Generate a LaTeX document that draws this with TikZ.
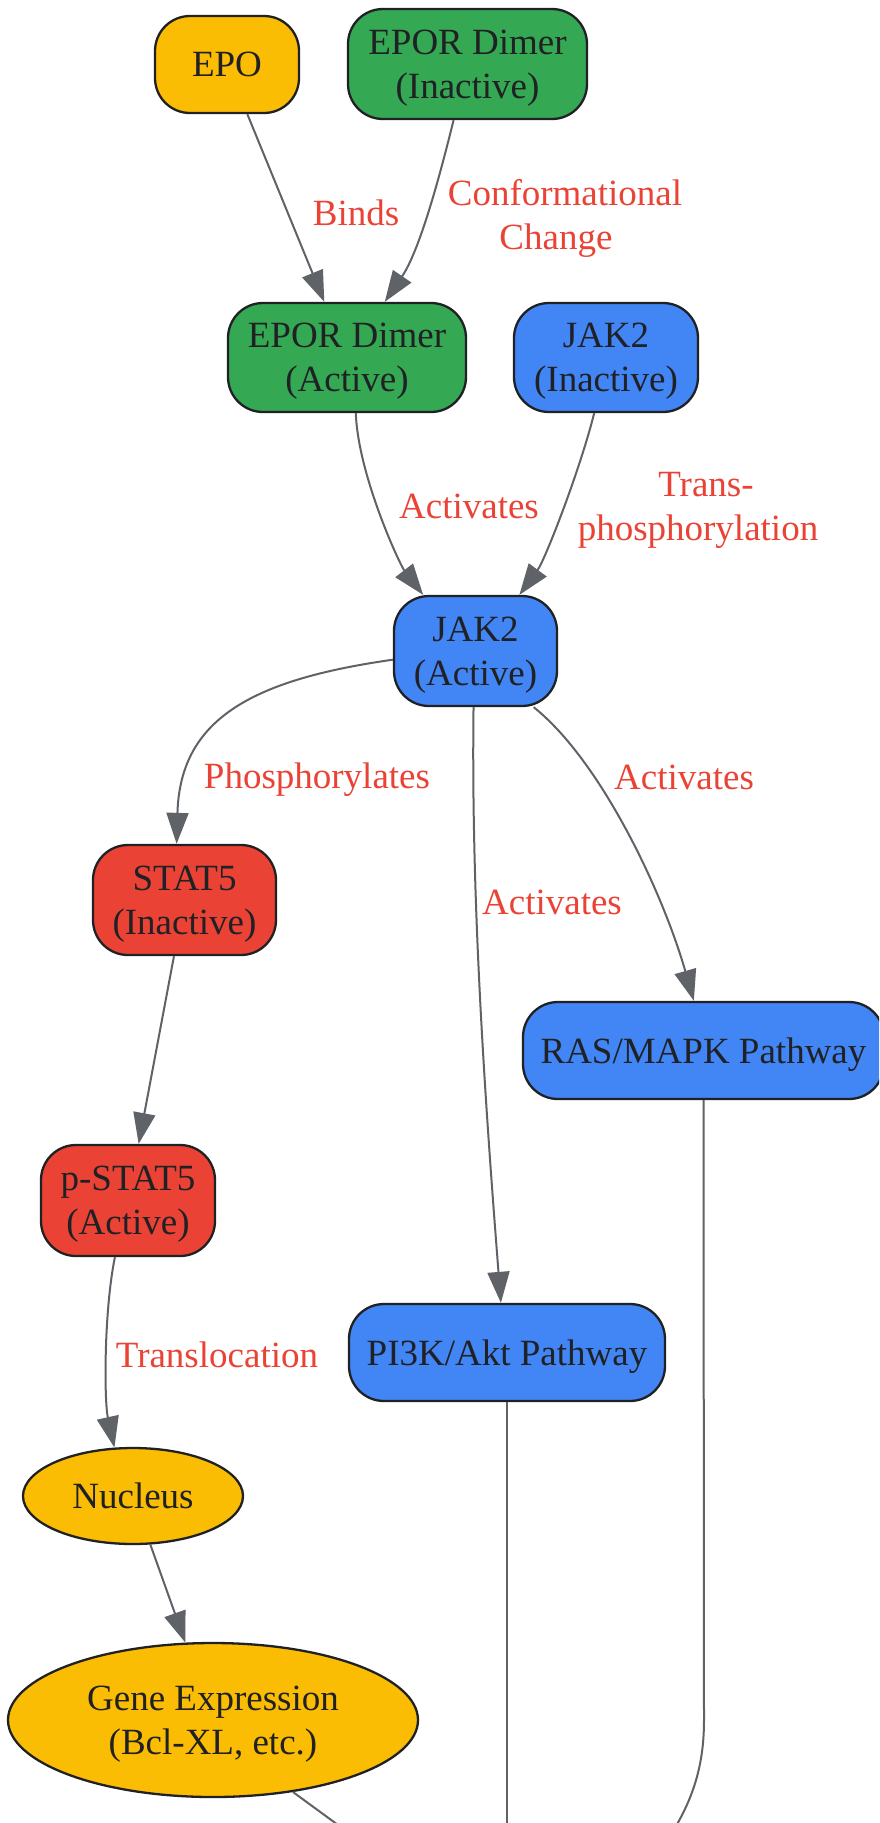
\documentclass[tikz,border=0pt]{standalone}
\usepackage{fontspec}
\setmainfont{Liberation Serif}
\usetikzlibrary{arrows.meta,shapes.geometric}
\definecolor{cyel}{HTML}{FBBC04}
\definecolor{cgrn}{HTML}{34A853}
\definecolor{cblu}{HTML}{4285F4}
\definecolor{cred}{HTML}{EA4335}
\definecolor{ctxt}{HTML}{202124}
\definecolor{cedge}{HTML}{5F6368}
\tikzset{
  box/.style={draw=ctxt, line width=2.3pt, rounded corners=35pt, text=ctxt,
    font=\fontsize{37}{44}\selectfont, align=center, inner sep=0pt, text depth=-5pt},
  oval/.style={ellipse, draw=ctxt, line width=2.3pt, text=ctxt,
    font=\fontsize{37}{44}\selectfont, align=center, inner sep=0pt, text depth=-5pt},
  edge/.style={draw=cedge, line width=2pt, -{Triangle[length=31pt,width=22pt]}},
  plainedge/.style={draw=cedge, line width=2pt},
  lab/.style={text=cred, font=\fontsize{37}{44}\selectfont, align=center, inner sep=0pt}
}
\begin{document}
\begin{tikzpicture}[x=1pt,y=-1pt]
\useasboundingbox (0,0) rectangle (879,1823);
\clip (0,0) rectangle (879,1823);
\fill[white] (0,0) rectangle (879,1823);

% nodes
\node[box, fill=cyel, minimum width=144pt, minimum height=97pt] (epo) at (227,64.5) {EPO};
\node[box, fill=cgrn, minimum width=239pt, minimum height=110pt] (eporI) at (467.5,64) {EPOR Dimer\\(Inactive)};
\node[box, fill=cgrn, minimum width=238pt, minimum height=109pt] (eporA) at (347,357.5) {EPOR Dimer\\(Active)};
\node[box, fill=cblu, minimum width=184pt, minimum height=109pt] (jak2i) at (606,357.5) {JAK2\\(Inactive)};
\node[box, fill=cblu, minimum width=163pt, minimum height=110pt] (jak2a) at (475.5,651) {JAK2\\(Active)};
\node[box, fill=cred, minimum width=183pt, minimum height=110pt] (stat5) at (184.5,900) {STAT5\\(Inactive)};
\node[box, fill=cblu, minimum width=361pt, minimum height=97pt] (ras) at (703.5,1050.5) {RAS/MAPK Pathway};
\node[box, fill=cred, minimum width=174pt, minimum height=111pt] (pstat5) at (128,1200.5) {p-STAT5\\(Active)};
\node[box, fill=cblu, minimum width=316pt, minimum height=97pt] (pi3k) at (507,1352.5) {PI3K/Akt Pathway};
\node[oval, fill=cyel, minimum width=220pt, minimum height=96pt] (nucleus) at (133,1496) {Nucleus};
\node[oval, fill=cyel, minimum width=410pt, minimum height=154pt] (gene) at (213,1720) {Gene Expression\\(Bcl-XL, etc.)};

% free ends below the picture
\coordinate (offG) at (360,1841);
\coordinate (offP) at (507,1845);
\coordinate (rasBend) at (704,1720);
\coordinate (offR) at (662,1848);

% edges
\draw[edge] (epo) -- (eporA);
\draw[edge] (eporI) .. controls (440,175) and (420,250) .. (eporA);
\draw[edge] (eporA.-81.6) .. controls (358,475) and (400,565) .. (jak2a.133.7);
\draw[edge] (jak2i.-102.4) .. controls (580,470) and (545,560) .. (jak2a.52.6);
\draw[edge] (jak2a.186.3) .. controls (250,680) and (180,720) .. (stat5.98.5);
\draw[edge] (jak2a.-92.6) .. controls (471,900) and (485,1100) .. (pi3k.97.9);
\draw[edge] (jak2a.-44.7) .. controls (600,760) and (662,890) .. (ras.101.7);
\draw[edge] (stat5) -- (pstat5);
\draw[edge] (pstat5.-103.2) .. controls (104,1310) and (104,1400) .. (nucleus.111.2);
\draw[edge] (nucleus) -- (gene);
\draw[plainedge] (gene.-42.5) -- (offG);
\draw[plainedge] (pi3k.south) -- (offP);
\draw[plainedge] (ras.south) -- (rasBend) .. controls (704,1768) and (692,1805) .. (offR);

% labels
\node[lab] (lBinds) at (356,213) {Binds};
\node[lab] (lConf) at (565,218) {Conformational\\Change\hspace*{18pt}};
\node[lab] (lAct1) at (469,506) {Activates};
\node[lab] (lTrans) at (698,510) {\hspace*{16pt}Trans-\\phosphorylation};
\node[lab] (lPhos) at (317,780) {Phosphorylates};
\node[lab] (lAct2) at (552,902) {Activates};
\node[lab] (lAct3) at (684,777) {Activates};
\node[lab] (lTransl) at (217,1355) {Translocation};
\end{tikzpicture}
\end{document}
